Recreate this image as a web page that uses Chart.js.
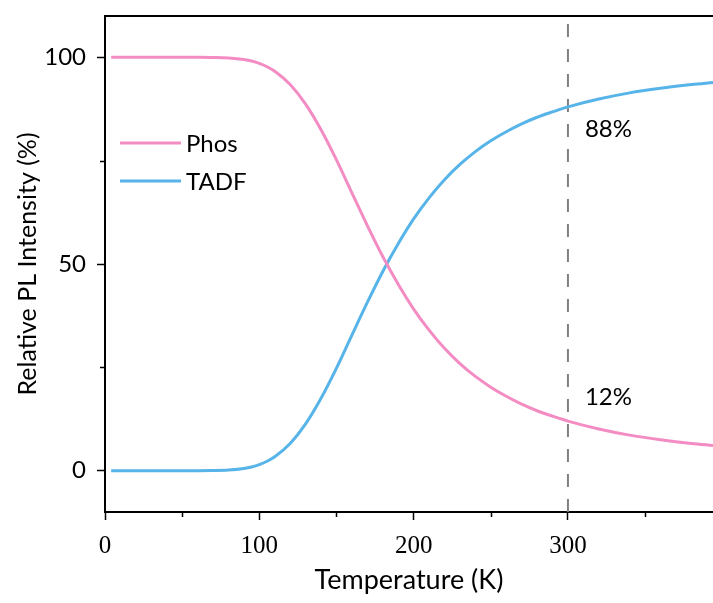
<!DOCTYPE html>
<html>
<head>
<meta charset="utf-8">
<script src="https://cdn.jsdelivr.net/npm/chart.js@4/dist/chart.umd.min.js"></script>
<style>
  html, body { margin: 0; padding: 0; background: #fff; }
  #wrap { width: 713px; height: 603px; }
</style>
</head>
<body>
<div id="wrap"><canvas id="chart" width="713" height="603"></canvas></div>
<script>
// temperature (K)
const temps = [4, 20, 40, 60, 70, 80, 90, 95, 100, 105, 110, 120, 130, 140, 150, 160, 170, 180, 190, 200, 210, 220, 230, 240, 250, 260, 270, 280, 290, 300, 320, 340, 360, 380, 394];
const phos = [100, 100, 100, 100, 99.97, 99.85, 99.47, 99.1, 98.53, 97.73, 96.65, 93.44, 88.7, 82.5, 75.2, 67.2, 59.3, 51.8, 45.1, 39.1, 34.0, 29.6, 25.9, 22.8, 20.2, 18.0, 16.1, 14.5, 13.2, 12.0, 10.1, 8.6, 7.5, 6.6, 6.1];
const tadf = [0, 0, 0, 0, 0.03, 0.15, 0.53, 0.9, 1.47, 2.27, 3.35, 6.56, 11.3, 17.5, 24.8, 32.8, 40.7, 48.2, 54.9, 60.9, 66.0, 70.4, 74.1, 77.2, 79.8, 82.0, 83.9, 85.5, 86.8, 88.0, 89.9, 91.4, 92.5, 93.4, 93.9];
const seriesNames = ['Phos', 'TADF'];
const seriesColors = ['#F48CC4', '#56B4E9'];
const markerTemp = 300;
const markerLabels = ['88%', '12%'];
const markerValues = [88, 12];
const xTicks = [0, 50, 100, 150, 200, 250, 300, 350];
const yTicks = [0, 25, 50, 75, 100];

const sansFont = 'Lato, "Open Sans", sans-serif';
const serifFont = '"Liberation Serif", "DejaVu Serif", serif';

const toPoints = vals => temps.map((t, i) => ({ x: t, y: vals[i] }));

// minor ticks, top frame, legend and percentage labels
const extras = {
  id: 'extras',
  afterDraw(chart) {
    const { ctx, chartArea: a, scales: { x, y } } = chart;
    ctx.save();
    ctx.strokeStyle = '#000';
    ctx.lineWidth = 2;
    ctx.beginPath();
    ctx.moveTo(a.left - 1, a.top);
    ctx.lineTo(a.right, a.top);
    ctx.stroke();

    ctx.lineWidth = 1.5;
    xTicks.filter(v => v % 100 !== 0).forEach(v => {
      const px = Math.round(x.getPixelForValue(v)) + 0.5;
      ctx.beginPath(); ctx.moveTo(px, a.bottom); ctx.lineTo(px, a.bottom + 5); ctx.stroke();
    });
    yTicks.filter(v => v % 50 !== 0).forEach(v => {
      const py = Math.round(y.getPixelForValue(v)) + 0.5;
      ctx.beginPath(); ctx.moveTo(a.left, py); ctx.lineTo(a.left - 5, py); ctx.stroke();
    });

    // legend
    ctx.font = '24px ' + sansFont;
    ctx.textBaseline = 'middle';
    ctx.textAlign = 'left';
    seriesNames.forEach((name, i) => {
      const ly = 143 + i * 38;
      ctx.strokeStyle = seriesColors[i];
      ctx.lineWidth = 3;
      ctx.beginPath(); ctx.moveTo(120, ly); ctx.lineTo(181, ly); ctx.stroke();
      ctx.fillStyle = '#000';
      ctx.fillText(name, 186, ly + 1);
    });

    // labels next to the 300 K line
    const mx = x.getPixelForValue(markerTemp);
    markerLabels.forEach((txt, i) => {
      const py = y.getPixelForValue(markerValues[i]);
      const dy = markerValues[i] > 50 ? 22 : -24;
      ctx.fillText(txt, mx + 17, py + dy);
    });
    ctx.restore();
  }
};

new Chart(document.getElementById('chart'), {
  type: 'scatter',
  data: {
    datasets: [
      { label: seriesNames[0], data: toPoints(phos), showLine: true, borderColor: seriesColors[0], borderWidth: 3, pointRadius: 0, cubicInterpolationMode: 'monotone' },
      { label: seriesNames[1], data: toPoints(tadf), showLine: true, borderColor: seriesColors[1], borderWidth: 3, pointRadius: 0, cubicInterpolationMode: 'monotone' },
      { label: 'marker', data: [{ x: markerTemp, y: -10 }, { x: markerTemp, y: 109.5 }], showLine: true, borderColor: '#808080', borderWidth: 2, borderDash: [13, 12], pointRadius: 0 }
    ]
  },
  options: {
    responsive: false,
    animation: false,
    layout: { padding: { top: 16, right: 0, left: 0, bottom: 0 } },
    plugins: { legend: { display: false }, tooltip: { enabled: false } },
    scales: {
      x: {
        type: 'linear', min: 0, max: 394,
        afterFit: s => { s.height = 91; s.paddingLeft = 0; s.paddingRight = 0; },
        afterBuildTicks: s => { s.ticks = xTicks.filter(v => v % 100 === 0).map(v => ({ value: v })); },
        grid: { drawOnChartArea: false, tickLength: 8, tickWidth: 1.5, tickColor: '#000' },
        border: { color: '#000', width: 2 },
        ticks: { color: '#000', padding: 11, maxRotation: 0, font: { family: serifFont, size: 25 } },
        title: { display: true, text: 'Temperature (K)', color: '#000', font: { family: sansFont, size: 27 }, padding: { top: 0, bottom: 7 } }
      },
      y: {
        min: -10, max: 110,
        afterFit: s => { s.width = 105; s.paddingTop = 0; s.paddingBottom = 0; },
        afterBuildTicks: s => { s.ticks = yTicks.filter(v => v % 50 === 0).map(v => ({ value: v })); },
        grid: { drawOnChartArea: false, tickLength: 8, tickWidth: 1.5, tickColor: '#000' },
        border: { color: '#000', width: 2 },
        ticks: { color: '#000', padding: 11, font: { family: sansFont, size: 24 } },
        title: { display: true, text: 'Relative PL Intensity (%)', color: '#000', font: { family: sansFont, size: 25 }, padding: { top: 13, bottom: 0 } }
      }
    }
  },
  plugins: [extras]
});
</script>
</body>
</html>
